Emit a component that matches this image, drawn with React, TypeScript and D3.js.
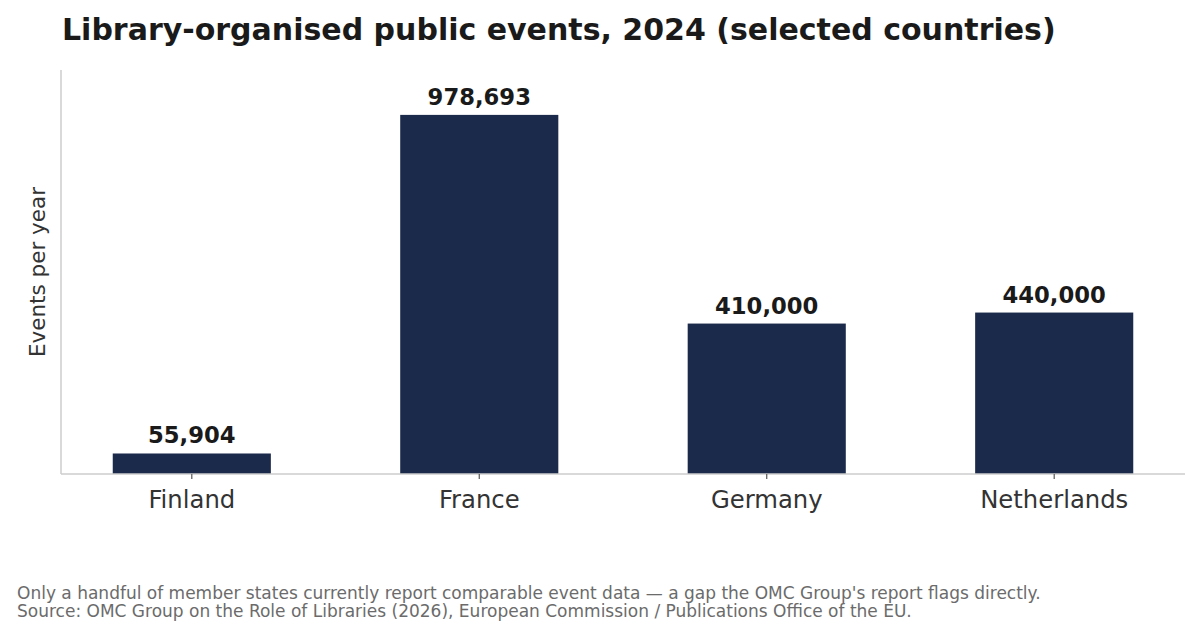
import * as d3 from 'd3';
import React, { useEffect, useRef } from 'react';

const countries = ['Finland', 'France', 'Germany', 'Netherlands'];
const events = [55904, 978693, 410000, 440000];

const title = 'Library-organised public events, 2024 (selected countries)';
const yLabel = 'Events per year';
const notes = [
    'Only a handful of member states currently report comparable event data \u2014 a gap the OMC Group\'s report flags directly.',
    'Source: OMC Group on the Role of Libraries (2026), European Commission / Publications Office of the EU.',
];

const App: React.FC = () => {
    const svgRef = useRef<SVGSVGElement>(null);

    useEffect(() => {
        if (!svgRef.current) return;
        d3.select(svgRef.current).selectAll('*').remove();

        const width = 1200;
        const height = 637;
        const left = 61;
        const right = 1185;
        const top = 70;
        const bottom = 474;
        const font = '"DejaVu Sans", sans-serif';

        const svg = d3.select(svgRef.current)
            .attr('width', width)
            .attr('height', height)
            .style('display', 'block')
            .style('background', '#fff');

        const x = d3.scaleBand<string>()
            .domain(countries)
            .range([left, right])
            .paddingInner(0.45)
            .paddingOuter(0.18);

        const y = d3.scaleLinear()
            .domain([0, d3.max(events)! * 1.125])
            .range([bottom, top]);

        // Title
        svg.append('text')
            .attr('x', 62)
            .attr('y', 40)
            .attr('font-family', font)
            .attr('font-size', 30)
            .attr('font-weight', 'bold')
            .attr('fill', '#1a1a1a')
            .text(title);

        // Bars
        const data = countries.map((c, i) => ({ country: c, value: events[i] }));

        svg.append('g')
            .selectAll('rect')
            .data(data)
            .join('rect')
            .attr('x', d => x(d.country)!)
            .attr('y', d => y(d.value))
            .attr('width', x.bandwidth())
            .attr('height', d => bottom - y(d.value))
            .attr('fill', '#1b2a4a');

        // Value labels
        svg.append('g')
            .selectAll('text')
            .data(data)
            .join('text')
            .attr('x', d => x(d.country)! + x.bandwidth() / 2)
            .attr('y', d => y(d.value) - 10)
            .attr('text-anchor', 'middle')
            .attr('font-family', font)
            .attr('font-size', 22.7)
            .attr('font-weight', 'bold')
            .attr('fill', '#1a1a1a')
            .text(d => d3.format(',')(d.value));

        // Spines
        svg.append('line')
            .attr('x1', left).attr('x2', left)
            .attr('y1', top).attr('y2', bottom)
            .attr('stroke', '#cccccc')
            .attr('stroke-width', 1.5);

        const xAxis = svg.append('g')
            .attr('transform', `translate(0, ${bottom})`)
            .call(d3.axisBottom(x).tickSize(5).tickSizeOuter(0).tickPadding(12));

        xAxis.select('.domain')
            .attr('d', `M${left},0H${right}`)
            .attr('stroke', '#cccccc')
            .attr('stroke-width', 1.5);
        xAxis.selectAll('.tick line')
            .attr('stroke', '#555')
            .attr('stroke-width', 1.2);
        xAxis.selectAll('.tick text')
            .attr('font-family', font)
            .attr('font-size', 24.3)
            .attr('fill', '#333');

        // Y label
        svg.append('text')
            .attr('transform', `translate(45, ${(top + bottom) / 2}) rotate(-90)`)
            .attr('text-anchor', 'middle')
            .attr('font-family', font)
            .attr('font-size', 21.5)
            .attr('fill', '#333')
            .text(yLabel);

        // Notes
        svg.append('g')
            .selectAll('text')
            .data(notes)
            .join('text')
            .attr('x', 17)
            .attr('y', (_, i) => 599 + i * 18)
            .attr('font-family', font)
            .attr('font-size', 17)
            .attr('fill', '#6b6b6b')
            .text(d => d);
    }, []);

    return (
        <div style={{ margin: -8 }}>
            <svg ref={svgRef}></svg>
        </div>
    );
};

export default App;
